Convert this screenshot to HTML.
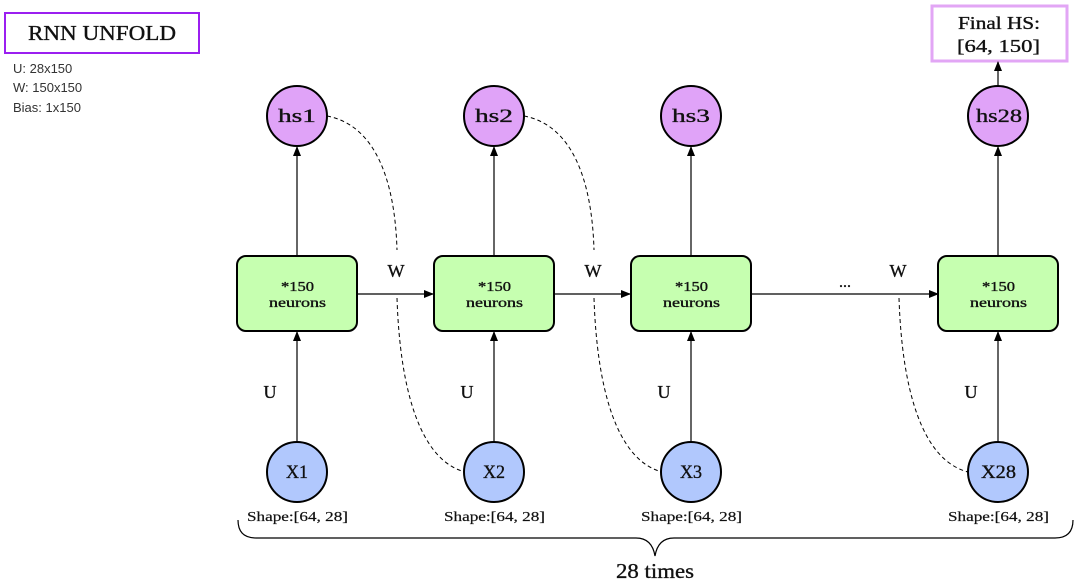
<!DOCTYPE html>
<html><head><meta charset="utf-8"><style>
html,body{margin:0;padding:0;background:#fff;}
svg{display:block;}
.s{font-family:"Liberation Serif",serif;fill:#111;stroke:#111;stroke-width:0.35;}
.a{font-family:"Liberation Sans",sans-serif;fill:#333;font-size:13px;}
</style></head><body>
<svg width="1077" height="580" viewBox="0 0 1077 580" xmlns="http://www.w3.org/2000/svg">
<defs>
<marker id="ar" markerWidth="10" markerHeight="10" refX="9" refY="5" orient="auto" markerUnits="userSpaceOnUse">
<path d="M0,1 L10,5 L0,9 Z" fill="#000"/></marker>
</defs>
<rect x="5" y="13" width="194" height="40" fill="#fff" stroke="#9b1ff0" stroke-width="2"/>
<text class="s" x="28" y="40" font-size="21" textLength="148" lengthAdjust="spacingAndGlyphs">RNN UNFOLD</text>
<text class="a" x="13" y="73">U: 28x150</text>
<text class="a" x="13" y="92">W: 150x150</text>
<text class="a" x="13" y="112">Bias: 1x150</text>

<rect x="932" y="6" width="135" height="55" fill="#fff" stroke="#e2a6f5" stroke-width="3"/>
<text class="s" x="958" y="29" font-size="18" textLength="82" lengthAdjust="spacingAndGlyphs">Final HS:</text>
<text class="s" x="957" y="52" font-size="18" textLength="83" lengthAdjust="spacingAndGlyphs">[64, 150]</text>
<line x1="998" y1="86" x2="998" y2="62" stroke="#000" stroke-width="1.2" marker-end="url(#ar)"/>

<g fill="none" stroke="#000" stroke-width="1" stroke-dasharray="4,3">
<path d="M327,116 C375,125 395,180 397,250"/>
<path d="M524,116 C572,125 592,180 594,250"/>
<path d="M397,298 C400,390 420,460 465,472"/>
<path d="M594,298 C597,390 617,460 662,472"/>
<path d="M899,298 C902,390 922,460 968,472"/>
</g>

<g stroke="#000" stroke-width="1.2">
<line x1="357" y1="294" x2="433" y2="294" marker-end="url(#ar)"/>
<line x1="554" y1="294" x2="630" y2="294" marker-end="url(#ar)"/>
<line x1="751" y1="294" x2="938" y2="294" marker-end="url(#ar)"/>
</g>
<text class="s" x="396" y="277" text-anchor="middle" font-size="18">W</text>
<text class="s" x="593" y="277" text-anchor="middle" font-size="18">W</text>
<text class="s" x="898" y="277" text-anchor="middle" font-size="18">W</text>
<text class="s" x="845" y="287" text-anchor="middle" font-size="16">...</text>

<g stroke="#000" stroke-width="1.2">
<line x1="297" y1="256" x2="297" y2="147" marker-end="url(#ar)"/>
<line x1="297" y1="442" x2="297" y2="332" marker-end="url(#ar)"/>
<line x1="494" y1="256" x2="494" y2="147" marker-end="url(#ar)"/>
<line x1="494" y1="442" x2="494" y2="332" marker-end="url(#ar)"/>
<line x1="691" y1="256" x2="691" y2="147" marker-end="url(#ar)"/>
<line x1="691" y1="442" x2="691" y2="332" marker-end="url(#ar)"/>
<line x1="998" y1="256" x2="998" y2="147" marker-end="url(#ar)"/>
<line x1="998" y1="442" x2="998" y2="332" marker-end="url(#ar)"/>
</g>

<g stroke="#000" stroke-width="2">
<rect x="237" y="256" width="120" height="75" rx="9" fill="#c6ffb0"/>
<rect x="434" y="256" width="120" height="75" rx="9" fill="#c6ffb0"/>
<rect x="631" y="256" width="120" height="75" rx="9" fill="#c6ffb0"/>
<rect x="938" y="256" width="120" height="75" rx="9" fill="#c6ffb0"/>
<circle cx="297" cy="116" r="30" fill="#e0a3f8"/>
<circle cx="494" cy="116" r="30" fill="#e0a3f8"/>
<circle cx="691" cy="116" r="30" fill="#e0a3f8"/>
<circle cx="998" cy="116" r="30" fill="#e0a3f8"/>
<circle cx="297" cy="472" r="30" fill="#b1c8fd"/>
<circle cx="494" cy="472" r="30" fill="#b1c8fd"/>
<circle cx="691" cy="472" r="30" fill="#b1c8fd"/>
<circle cx="998" cy="472" r="30" fill="#b1c8fd"/>
</g>

<g class="s" font-size="14">
<text x="281" y="291" textLength="33" lengthAdjust="spacingAndGlyphs">*150</text><text x="269" y="307" textLength="57" lengthAdjust="spacingAndGlyphs">neurons</text>
<text x="478" y="291" textLength="33" lengthAdjust="spacingAndGlyphs">*150</text><text x="466" y="307" textLength="57" lengthAdjust="spacingAndGlyphs">neurons</text>
<text x="675" y="291" textLength="33" lengthAdjust="spacingAndGlyphs">*150</text><text x="663" y="307" textLength="57" lengthAdjust="spacingAndGlyphs">neurons</text>
<text x="982" y="291" textLength="33" lengthAdjust="spacingAndGlyphs">*150</text><text x="970" y="307" textLength="57" lengthAdjust="spacingAndGlyphs">neurons</text>
</g>
<g class="s" font-size="19">
<text x="278" y="122" textLength="38" lengthAdjust="spacingAndGlyphs">hs1</text>
<text x="475" y="122" textLength="38" lengthAdjust="spacingAndGlyphs">hs2</text>
<text x="672" y="122" textLength="38" lengthAdjust="spacingAndGlyphs">hs3</text>
<text x="976" y="122" textLength="46" lengthAdjust="spacingAndGlyphs">hs28</text>
<text x="286" y="478" textLength="22" lengthAdjust="spacingAndGlyphs">X1</text>
<text x="483" y="478" textLength="22" lengthAdjust="spacingAndGlyphs">X2</text>
<text x="680" y="478" textLength="22" lengthAdjust="spacingAndGlyphs">X3</text>
<text x="981" y="478" textLength="35" lengthAdjust="spacingAndGlyphs">X28</text>
</g>
<g class="s" text-anchor="middle" font-size="18">
<text x="270" y="398">U</text>
<text x="467" y="398">U</text>
<text x="664" y="398">U</text>
<text x="971" y="398">U</text>
</g>
<g class="s" font-size="14" style="stroke-width:0.2">
<text x="247" y="521" textLength="101" lengthAdjust="spacingAndGlyphs">Shape:[64, 28]</text>
<text x="444" y="521" textLength="101" lengthAdjust="spacingAndGlyphs">Shape:[64, 28]</text>
<text x="641" y="521" textLength="101" lengthAdjust="spacingAndGlyphs">Shape:[64, 28]</text>
<text x="948" y="521" textLength="101" lengthAdjust="spacingAndGlyphs">Shape:[64, 28]</text>
</g>

<path d="M238,520 Q238,538 256,538 L636,538 Q652,538 655,556 Q658,538 674,538 L1055,538 Q1073,538 1073,520" fill="none" stroke="#000" stroke-width="1.2"/>
<text class="s" x="616" y="578" font-size="21" textLength="78" lengthAdjust="spacingAndGlyphs">28 times</text>
</svg>
</body></html>
